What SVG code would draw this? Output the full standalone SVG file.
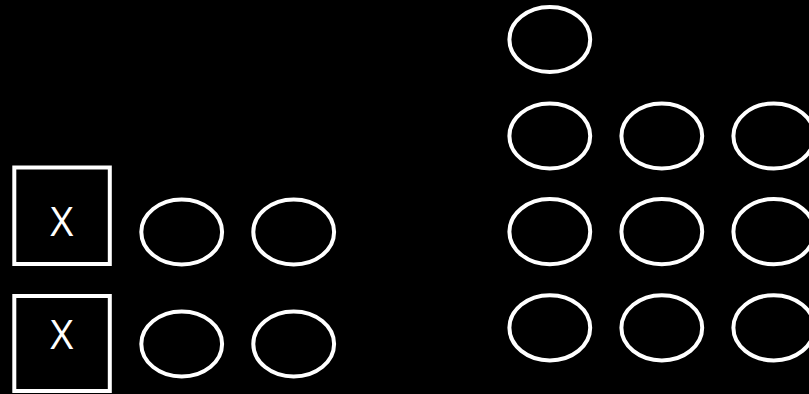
<svg xmlns="http://www.w3.org/2000/svg" width="809" height="394" viewBox="0 0 809 394">
<style>
.n{fill:none;stroke:#fff;stroke-width:4}
.t{fill:#fff;font-family:"Open Sans","Liberation Sans",sans-serif;font-size:40px;text-anchor:middle}
</style>
<rect width="809" height="394" fill="#000"/>
<g id="sq1"><rect class="n" x="14.3" y="167.5" width="95.5" height="96.5"/><text class="t" x="61.7" y="236">X</text></g>
<g id="sq2"><rect class="n" x="14.3" y="296" width="95.5" height="95"/><text class="t" x="61.7" y="349">X</text></g>
<g id="e1"><ellipse class="n" cx="181.7" cy="232" rx="40.4" ry="32.6"/></g>
<g id="e2"><ellipse class="n" cx="293.7" cy="232" rx="40.4" ry="32.6"/></g>
<g id="e3"><ellipse class="n" cx="181.7" cy="344" rx="40.4" ry="32.6"/></g>
<g id="e4"><ellipse class="n" cx="293.7" cy="344" rx="40.4" ry="32.6"/></g>
<g id="r0"><ellipse class="n" cx="549.8" cy="39.5" rx="40.4" ry="32.6"/></g>
<g id="r1a"><ellipse class="n" cx="549.8" cy="136" rx="40.4" ry="32.6"/></g>
<g id="r1b"><ellipse class="n" cx="661.8" cy="136" rx="40.4" ry="32.6"/></g>
<g id="r1c"><ellipse class="n" cx="773.8" cy="136" rx="40.4" ry="32.6"/></g>
<g id="r2a"><ellipse class="n" cx="549.8" cy="231.7" rx="40.4" ry="32.6"/></g>
<g id="r2b"><ellipse class="n" cx="661.8" cy="231.7" rx="40.4" ry="32.6"/></g>
<g id="r2c"><ellipse class="n" cx="773.8" cy="231.7" rx="40.4" ry="32.6"/></g>
<g id="r3a"><ellipse class="n" cx="549.8" cy="327.8" rx="40.4" ry="32.6"/></g>
<g id="r3b"><ellipse class="n" cx="661.8" cy="327.8" rx="40.4" ry="32.6"/></g>
<g id="r3c"><ellipse class="n" cx="773.8" cy="327.8" rx="40.4" ry="32.6"/></g>
<g id="connectors"></g>
</svg>
